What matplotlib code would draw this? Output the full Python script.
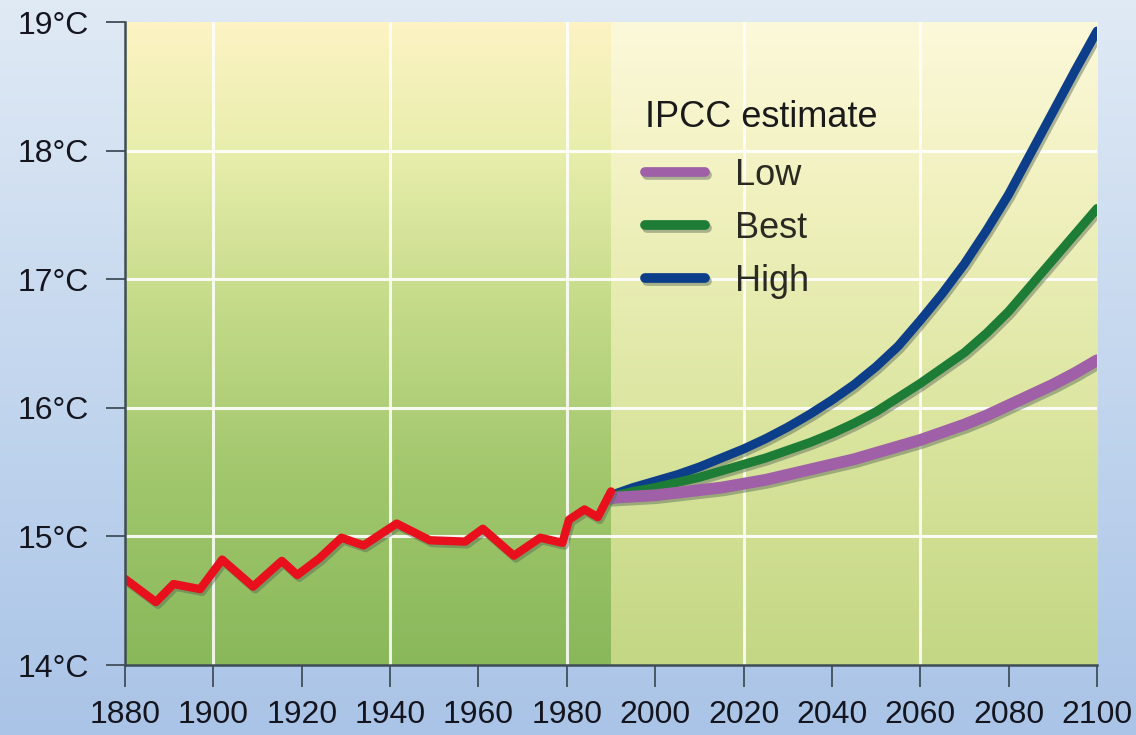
import numpy as np
import matplotlib
matplotlib.use("Agg")
import matplotlib.pyplot as plt
import matplotlib.patheffects as pe
from matplotlib.colors import LinearSegmentedColormap

plt.rcParams['font.family'] = ['Liberation Sans', 'DejaVu Sans']

hist_years = [1880, 1887, 1891, 1897, 1902, 1909, 1915.5, 1919, 1924, 1929, 1934,
              1941.5, 1949, 1957, 1961, 1968, 1974, 1979, 1980.5, 1984, 1987, 1990]
hist_temps = [14.67, 14.49, 14.63, 14.59, 14.82, 14.61, 14.81, 14.70, 14.83, 14.99, 14.93,
              15.10, 14.97, 14.96, 15.06, 14.85, 14.99, 14.95, 15.13, 15.21, 15.15, 15.35]

# IPCC projections, every 5 years
proj_years = list(range(1990, 2101, 5))
low = [15.30, 15.31, 15.32, 15.34, 15.36, 15.38, 15.41, 15.44, 15.48, 15.52, 15.56, 15.60,
       15.65, 15.70, 15.75, 15.81, 15.87, 15.94, 16.02, 16.10, 16.18, 16.27, 16.37]
best = [15.31, 15.35, 15.38, 15.42, 15.46, 15.51, 15.56, 15.61, 15.67, 15.73, 15.80, 15.88,
        15.97, 16.08, 16.19, 16.31, 16.43, 16.58, 16.75, 16.95, 17.15, 17.35, 17.55]
high = [15.32, 15.38, 15.43, 15.48, 15.54, 15.61, 15.68, 15.76, 15.85, 15.95, 16.06, 16.18,
        16.32, 16.48, 16.68, 16.89, 17.12, 17.38, 17.66, 17.98, 18.30, 18.62, 18.93]

x_ticks = list(range(1880, 2101, 20))
grid_years = [1900, 1940, 1980, 2020, 2060]
y_ticks = [14, 15, 16, 17, 18, 19]
grid_temps = [15, 16, 17, 18]
y_labels = ["%d°C" % t for t in y_ticks]

fig = plt.figure(figsize=(11.36, 7.35), dpi=100)

# figure background: pale blue gradient
bg = fig.add_axes([0, 0, 1, 1], zorder=-10)
bg_cmap = LinearSegmentedColormap.from_list("bg", ["#aac4e7", "#c4d7ee", "#e0eaf5"])
bg.imshow(np.linspace(0, 1, 256).reshape(-1, 1), cmap=bg_cmap, aspect='auto',
          origin='lower', extent=[0, 1, 0, 1])
bg.set_axis_off()

ax = fig.add_axes([0.110, 0.0952, 0.8557, 0.8748])
ax.set_xlim(1880, 2100)
ax.set_ylim(14, 19)

grad = np.linspace(0, 1, 256).reshape(-1, 1)
past_cmap = LinearSegmentedColormap.from_list(
    "past", [(0, "#89b85b"), (0.3, "#a2c76d"), (0.55, "#c3da88"), (0.8, "#e8eeac"), (1, "#fdf3c4")])
future_cmap = LinearSegmentedColormap.from_list(
    "future", [(0, "#c3d784"), (0.35, "#d9e49d"), (0.7, "#eff0bc"), (1, "#fcf9da")])
ax.imshow(grad, cmap=past_cmap, aspect='auto', origin='lower',
          extent=[1880, 1990, 14, 19], zorder=0)
ax.imshow(grad, cmap=future_cmap, aspect='auto', origin='lower',
          extent=[1990, 2100, 14, 19], zorder=0)

ax.set_xticks(x_ticks)
ax.set_yticks(y_ticks)
ax.set_yticklabels(y_labels)
for yr in grid_years:
    ax.axvline(yr, color='white', linewidth=2.2, alpha=0.85, zorder=1)
for t in grid_temps:
    ax.axhline(t, color='white', linewidth=2.2, alpha=0.9, zorder=1)

shadow = [pe.SimpleLineShadow(offset=(1.5, -2), shadow_color='#556655', alpha=0.45), pe.Normal()]

ax.plot(proj_years, high, color='#0c3e8a', linewidth=6.5, solid_capstyle='round',
        path_effects=shadow, zorder=3, label='High')
ax.plot(proj_years, best, color='#1d7c35', linewidth=6.5, solid_capstyle='round',
        path_effects=shadow, zorder=4, label='Best')
ax.plot(proj_years, low, color='#a060a8', linewidth=8.5, solid_capstyle='round',
        path_effects=shadow, zorder=5, label='Low')
ax.plot(hist_years, hist_temps, color='#e8101c', linewidth=6, solid_capstyle='round',
        solid_joinstyle='round', path_effects=shadow, zorder=6)

handles, labels = ax.get_legend_handles_labels()
order = [2, 1, 0]
leg = ax.legend([handles[i] for i in order], [labels[i] for i in order],
                title="IPCC estimate", loc='upper left', bbox_to_anchor=(0.535, 0.878),
                frameon=False, fontsize=26, title_fontsize=26, handlelength=1.65,
                handletextpad=0.85, labelspacing=0.5, borderpad=0, borderaxespad=0,
                alignment='left')
leg._legend_box.sep = 16
for line in leg.get_lines():
    line.set_linewidth(7)
    line.set_path_effects(shadow)
for t in leg.get_texts():
    t.set_color('#2a2a22')
leg.get_title().set_color('#1a1a1a')
leg.set_zorder(7)

for side in ['top', 'right']:
    ax.spines[side].set_visible(False)
for side in ['left', 'bottom']:
    ax.spines[side].set_color('#3e4c55')
    ax.spines[side].set_linewidth(1.8)
    ax.spines[side].set_zorder(8)

ax.tick_params(axis='y', length=14, width=1.4, color='#4a5864', pad=12,
               labelsize=23, labelcolor='#15151f')
ax.tick_params(axis='x', length=16, width=1.4, color='#4a5864', pad=9,
               labelsize=23, labelcolor='#15151f')

fig.savefig("out.png", dpi=100)
